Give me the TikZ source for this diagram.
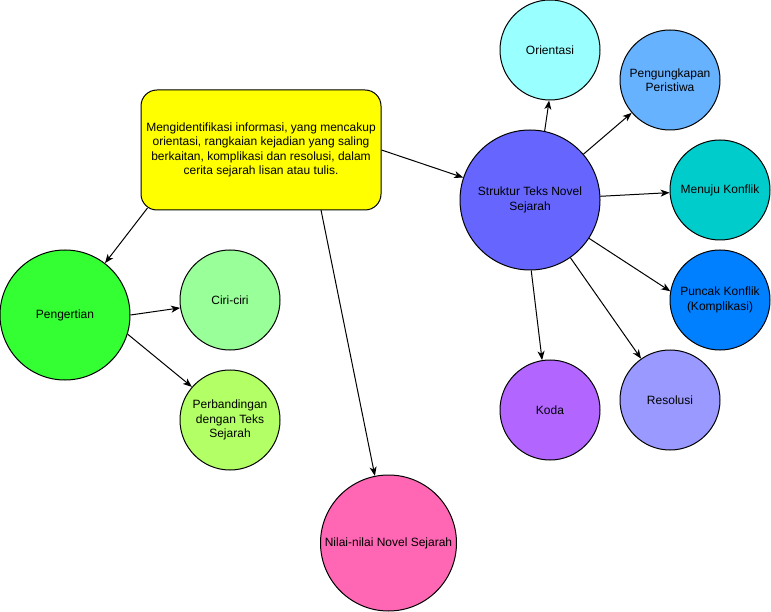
\documentclass[tikz,border=0pt]{standalone}
\usepackage{fontspec}
\setmainfont{Liberation Sans}
\usetikzlibrary{arrows.meta}
\definecolor{cori}{HTML}{99FFFF}
\definecolor{cpen}{HTML}{66B2FF}
\definecolor{cstr}{HTML}{6666FF}
\definecolor{cmen}{HTML}{00CCCC}
\definecolor{cpun}{HTML}{007FFF}
\definecolor{cres}{HTML}{9999FF}
\definecolor{ckod}{HTML}{B266FF}
\definecolor{cpeng}{HTML}{33FF33}
\definecolor{ccir}{HTML}{99FF99}
\definecolor{cper}{HTML}{B3FF66}
\definecolor{cnil}{HTML}{FF66B3}
\definecolor{cyel}{HTML}{FFFF00}
\begin{document}
\begin{tikzpicture}[x=1pt,y=-1pt,
  every node/.style={font=\fontsize{12}{14.4}\selectfont, align=center, inner sep=0pt},
  bub/.style={circle, draw=black, line width=1pt, minimum size=#1},
  bub/.default=100pt,
  conn/.style={line width=1pt, -{Stealth[length=9pt,width=7pt,inset=2.5pt]}}
]
\useasboundingbox (0,0) rectangle (771,612);

\node[draw=black, line width=1pt, rounded corners=16pt, fill=cyel,
      minimum width=240pt, minimum height=120pt] (rect) at (261,150)
  {Mengidentifikasi informasi, yang mencakup\\orientasi, rangkaian kejadian yang saling\\berkaitan, komplikasi dan resolusi, dalam\\cerita sejarah lisan atau tulis.};

\node[bub=140pt, fill=cstr] (str) at (530,200) {Struktur Teks Novel\\Sejarah};
\node[bub, fill=cori] (ori) at (550,50) {Orientasi};
\node[bub, fill=cpen] (pen) at (670,80) {Pengungkapan\\Peristiwa};
\node[bub, fill=cmen] (men) at (720,190) {Menuju Konflik};
\node[bub, fill=cpun] (pun) at (720,300) {Puncak Konflik\\(Komplikasi)};
\node[bub, fill=cres] (res) at (670,400) {Resolusi};
\node[bub, fill=ckod] (kod) at (550,410) {Koda};

\node[bub=130pt, fill=cpeng] (peng) at (65,315) {Pengertian};
\node[bub, fill=ccir] (cir) at (230,300) {Ciri-ciri};
\node[bub, fill=cper] (per) at (230,420) {Perbandingan\\dengan Teks\\Sejarah};

\node[bub=136pt, fill=cnil] (nil) at (388.5,543) {Nilai-nilai Novel Sejarah};

\coordinate (rsw) at (147.5,208);
\coordinate (rs) at (321,210);

\draw[conn] (rect.east) -- (str);
\draw[conn] (rsw) -- (peng);
\draw[conn] (rs) -- (nil);

\draw[conn] (str.78) -- (ori.269);
\draw[conn] (str) -- (pen);
\draw[conn] (str) -- (men);
\draw[conn] (str.-33) -- (pun.170);
\draw[conn] (str) -- (res);
\draw[conn] (str.-89.4) -- (kod.99);

\draw[conn] (peng.0) -- (cir.189);
\draw[conn] (peng.-17.5) -- (per.139.5);
\end{tikzpicture}
\end{document}
